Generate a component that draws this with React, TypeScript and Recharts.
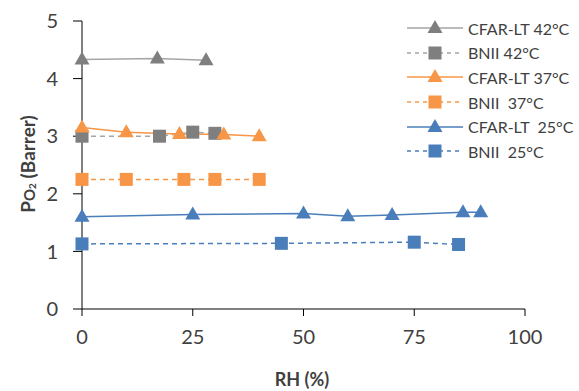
import { LineChart, Line, XAxis, YAxis } from 'recharts';

// RH (%) and PO2 (Barrer)
const cfar42Rh = [0, 17, 28];
const cfar42Po = [4.33, 4.35, 4.32];
const bnii42Rh = [0, 17.5, 25, 30];
const bnii42Po = [3.0, 3.0, 3.07, 3.05];
const cfar37Rh = [0, 10, 22, 32, 40];
const cfar37Po = [3.15, 3.07, 3.04, 3.03, 3.0];
const bnii37Rh = [0, 10, 23, 30, 40];
const bnii37Po = [2.25, 2.25, 2.25, 2.25, 2.25];
const cfar25Rh = [0, 25, 50, 60, 70, 86, 90];
const cfar25Po = [1.6, 1.64, 1.66, 1.61, 1.63, 1.68, 1.68];
const bnii25Rh = [0, 45, 75, 85];
const bnii25Po = [1.13, 1.14, 1.16, 1.12];

const xTicks = [0, 25, 50, 75, 100];
const yTicks = [0, 1, 2, 3, 4, 5];

const zip = (xs: number[], ys: number[]) => xs.map((x, i) => ({ x, y: ys[i] }));

const GRAY = '#7f7f7f';
const GRAY_LINE = '#a5a5a5';
const ORANGE = '#f79646';
const BLUE = '#4a7ebb';
const FONT = 'Lato, "Open Sans", sans-serif';

const series = [
  { name: 'CFAR-LT 42°C', data: zip(cfar42Rh, cfar42Po), color: GRAY, line: GRAY_LINE, shape: 'tri', dashed: false },
  { name: 'BNII 42°C', data: zip(bnii42Rh, bnii42Po), color: GRAY, line: GRAY_LINE, shape: 'sq', dashed: true },
  { name: 'CFAR-LT 37°C', data: zip(cfar37Rh, cfar37Po), color: ORANGE, line: ORANGE, shape: 'tri', dashed: false },
  { name: 'BNII  37°C', data: zip(bnii37Rh, bnii37Po), color: ORANGE, line: ORANGE, shape: 'sq', dashed: true },
  { name: 'CFAR-LT  25°C', data: zip(cfar25Rh, cfar25Po), color: BLUE, line: BLUE, shape: 'tri', dashed: false },
  { name: 'BNII  25°C', data: zip(bnii25Rh, bnii25Po), color: BLUE, line: BLUE, shape: 'sq', dashed: true },
];

function marker(shape: string, color: string, cx: number, cy: number, key?: string | number) {
  if (shape === 'tri') {
    return <polygon key={key} points={`${cx},${cy - 8} ${cx - 7.5},${cy + 5} ${cx + 7.5},${cy + 5}`} fill={color} />;
  }
  return <rect key={key} x={cx - 6.5} y={cy - 6.5} width={13} height={13} fill={color} />;
}

function LegendBox() {
  return (
    <div style={{ position: 'absolute', left: 406, top: 16, fontFamily: FONT, fontSize: 16, color: '#404040' }}>
      {series.map((s) => (
        <div key={s.name} style={{ display: 'flex', alignItems: 'center', height: 24.6 }}>
          <svg width={58} height={18}>
            <line x1={1} x2={57} y1={9} y2={9} stroke={s.line} strokeWidth={1.5} strokeDasharray={s.dashed ? '4 4' : undefined} />
            {marker(s.shape, s.color, 29, 9)}
          </svg>
          <span style={{ whiteSpace: 'pre', marginLeft: 4 }}>{s.name}</span>
        </div>
      ))}
    </div>
  );
}

export default function App() {
  return (
    <div style={{ position: 'absolute', left: 0, top: 0, width: 579, height: 391, background: '#fff' }}>
      <LineChart width={579} height={391} margin={{ top: 21, right: 54, bottom: 32, left: 22 }}>
        <XAxis
          type="number"
          dataKey="x"
          domain={[0, 100]}
          ticks={xTicks}
          allowDuplicatedCategory={false}
          stroke="#000"
          tickSize={7}
          tickMargin={14}
          height={50}
          tick={{ fill: '#404040', fontSize: 20, fontFamily: FONT }}
          label={{
            content: () => (
              <text x={302} y={386} textAnchor="middle" fill="#404040" fontSize={18} fontWeight="bold" fontFamily={FONT}>
                RH (%)
              </text>
            ),
          }}
        />
        <YAxis
          type="number"
          dataKey="y"
          domain={[0, 5]}
          ticks={yTicks}
          stroke="#000"
          tickSize={9}
          tickMargin={15}
          width={60}
          tick={{ fill: '#404040', fontSize: 20, fontFamily: FONT }}
          label={{
            content: () => (
              <text
                x={27}
                y={164}
                transform="rotate(-90 27 164)"
                textAnchor="middle"
                dominantBaseline="central"
                fill="#404040"
                fontSize={19}
                fontWeight="bold"
                fontFamily={FONT}
              >
                P<tspan fontSize={15} dy={2}>O</tspan>
                <tspan fontSize={10} dy={3}>2</tspan>
                <tspan dy={-5}> (Barrer)</tspan>
              </text>
            ),
          }}
        />
        {series.map((s) => (
          <Line
            key={s.name}
            data={s.data}
            dataKey="y"
            name={s.name}
            type="linear"
            stroke={s.line}
            strokeWidth={1.5}
            strokeDasharray={s.dashed ? '5 4' : undefined}
            dot={(p: any) => marker(s.shape, s.color, p.cx, p.cy, `${s.name}-${p.index}`)}
            activeDot={false}
            isAnimationActive={false}
          />
        ))}
      </LineChart>
      <LegendBox />
    </div>
  );
}
